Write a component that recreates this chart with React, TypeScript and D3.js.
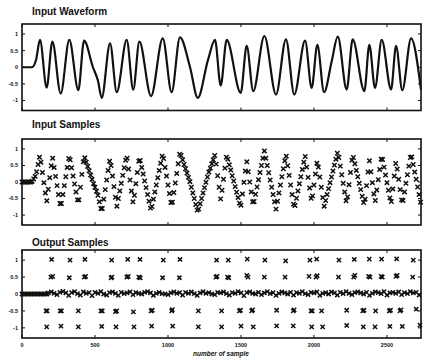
import * as d3 from "d3";
import React from "react";

const W = 425;
const H = 360;

// axis ticks
const xTicks = [0, 500, 1000, 1500, 2000, 2500];
const yTicks = [1, 0.5, 0, -0.5, -1];
const yTickLabels = ["1", "0.5", "0", "-0.5", "-1"];
const titles = ["Input Waveform", "Input Samples", "Output Samples"];
const xLabel = "number of sample";

// waveform turning points (sample number, amplitude)
const waveN = [
  0, 68, 96, 123, 169, 208, 265, 324, 386, 425, 486, 520, 546, 603, 649, 717,
  762, 804, 884, 964, 1025, 1082, 1151, 1204, 1274, 1322, 1361, 1402, 1498,
  1539, 1584, 1660, 1740, 1808, 1865, 1939, 1984, 2023, 2069, 2121, 2163, 2224,
  2265, 2345, 2379, 2418, 2464, 2528, 2562, 2605, 2665, 2733,
];
const waveV = [
  0, 0, 0.22, 0.82, -0.61, 0.77, -0.79, 0.82, -0.69, 0.8, 0.0, -0.4, -0.92,
  0.72, -0.75, 0.82, -0.67, 0.77, -0.87, 0.87, -0.75, 0.9, 0.0, -0.92, 0.22,
  0.82, -0.55, 0.82, -0.77, 0.64, -0.72, 0.94, -0.82, 0.84, -0.82, 0.8, -0.62,
  0.67, -0.75, 0.17, 0.92, -0.67, 0.84, -0.72, 0.67, -0.62, 0.82, -0.67, 0.64,
  -0.69, 0.87, -0.67,
];

// input samples, one every 10 samples
const inputStep = 10;
const inputSamples = [
  0, 0, 0, 0, 0, 0, 0, 0.02, 0.09, 0.17,
  0.31, 0.53, 0.75, 0.6, 0.29, -0.02, -0.33, -0.57, -0.22, 0.13,
  0.49, 0.72, 0.44, 0.17, -0.11, -0.38, -0.65, -0.65, -0.38, -0.11,
  0.16, 0.44, 0.71, 0.67, 0.43, 0.18, -0.06, -0.3, -0.54, -0.54,
  -0.16, 0.23, 0.61, 0.73, 0.6, 0.47, 0.34, 0.21, 0.08, -0.05,
  -0.16, -0.28, -0.4, -0.6, -0.8, -0.8, -0.52, -0.23, 0.06, 0.35,
  0.63, 0.5, 0.18, -0.14, -0.46, -0.73, -0.5, -0.27, -0.04, 0.2,
  0.43, 0.66, 0.72, 0.39, 0.06, -0.27, -0.6, -0.4, -0.05, 0.29,
  0.63, 0.65, 0.44, 0.24, 0.03, -0.17, -0.38, -0.58, -0.79, -0.74,
  -0.52, -0.3, -0.09, 0.13, 0.35, 0.57, 0.78, 0.71, 0.44, 0.18,
  -0.09, -0.35, -0.62, -0.61, -0.32, -0.03, 0.26, 0.55, 0.84, 0.8,
  0.67, 0.53, 0.4, 0.27, 0.14, 0.01, -0.16, -0.33, -0.5, -0.68,
  -0.85, -0.82, -0.66, -0.5, -0.33, -0.17, -0.01, 0.15, 0.3, 0.42,
  0.55, 0.67, 0.8, 0.54, 0.19, -0.16, -0.51, -0.25, 0.08, 0.42,
  0.75, 0.69, 0.52, 0.36, 0.19, 0.03, -0.14, -0.31, -0.47, -0.64,
  -0.7, -0.36, -0.01, 0.33, 0.61, 0.31, 0.0, -0.3, -0.6, -0.59,
  -0.37, -0.15, 0.07, 0.29, 0.5, 0.72, 0.94, 0.72, 0.5, 0.28,
  0.06, -0.16, -0.38, -0.6, -0.82, -0.58, -0.33, -0.09, 0.16, 0.4,
  0.64, 0.78, 0.49, 0.2, -0.09, -0.38, -0.67, -0.71, -0.49, -0.27,
  -0.05, 0.16, 0.38, 0.6, 0.77, 0.45, 0.14, -0.18, -0.49, -0.42,
  -0.09, 0.24, 0.57, 0.45, 0.15, -0.16, -0.47, -0.73, -0.56, -0.38,
  -0.2, -0.02, 0.15, 0.33, 0.51, 0.69, 0.87, 0.74, 0.48, 0.22,
  -0.04, -0.3, -0.57, -0.45, -0.08, 0.29, 0.66, 0.74, 0.55, 0.35,
  0.16, -0.04, -0.23, -0.43, -0.62, -0.52, -0.11, 0.3, 0.64, 0.31,
  -0.02, -0.36, -0.56, -0.24, 0.07, 0.38, 0.69, 0.68, 0.45, 0.21,
  -0.02, -0.25, -0.48, -0.59, -0.21, 0.18, 0.56, 0.39, 0.08, -0.23,
  -0.54, -0.56, -0.3, -0.04, 0.22, 0.48, 0.74, 0.76, 0.53, 0.3,
  0.08, -0.15, -0.38, -0.61,
];

// output samples, grouped by quantisation level: [sample number, value]
const outputHigh: [number, number][] = [
  [203, 1.02], [329, 1.0], [431, 1.02], [614, 1.0], [724, 1.02], [808, 1.02],
  [968, 1.0], [1082, 1.02], [1333, 1.0], [1413, 1.0], [1543, 1.03], [1664, 1.0],
  [1806, 0.98], [1972, 1.0], [2018, 1.03], [2171, 1.0], [2276, 1.02],
  [2379, 1.03], [2463, 1.03], [2566, 1.04], [2680, 1.0],
];
const outputMidHigh: [number, number][] = [
  [198, 0.5], [210, 0.52], [324, 0.48], [427, 0.5], [436, 0.52], [610, 0.48],
  [616, 0.5], [718, 0.5], [728, 0.52], [800, 0.5], [810, 0.48], [963, 0.48],
  [1078, 0.48], [1328, 0.5], [1336, 0.52], [1408, 0.5], [1416, 0.48],
  [1540, 0.55], [1548, 0.5], [1660, 0.5], [1802, 0.5], [1966, 0.52],
  [2014, 0.5], [2022, 0.54], [2168, 0.5], [2272, 0.5], [2280, 0.55],
  [2374, 0.52], [2384, 0.5], [2460, 0.52], [2468, 0.5], [2562, 0.52],
  [2570, 0.55], [2676, 0.5],
];
const outputMidLow: [number, number][] = [
  [165, -0.5], [172, -0.5], [262, -0.5], [270, -0.5], [386, -0.5], [541, -0.5],
  [550, -0.5], [640, -0.52], [648, -0.5], [763, -0.53], [884, -0.5],
  [892, -0.48], [1025, -0.5], [1030, -0.46], [1208, -0.5], [1367, -0.5],
  [1489, -0.5], [1496, -0.48], [1573, -0.5], [1580, -0.47], [1744, -0.48],
  [1858, -0.5], [1864, -0.47], [1980, -0.5], [1988, -0.5], [2052, -0.5],
  [2224, -0.48], [2334, -0.5], [2342, -0.48], [2422, -0.5], [2516, -0.5],
  [2524, -0.48], [2589, -0.5], [2596, -0.47], [2700, -0.45],
];
const outputLow: [number, number][] = [
  [169, -0.97], [267, -0.95], [386, -0.97], [546, -0.96], [644, -0.97],
  [767, -0.97], [888, -0.95], [1032, -0.95], [1208, -0.97], [1367, -0.97],
  [1500, -0.95], [1584, -0.97], [1744, -0.94], [1858, -0.94], [1984, -0.97],
  [2059, -0.97], [2224, -0.93], [2338, -0.97], [2418, -0.97], [2520, -0.96],
  [2605, -0.96], [2726, -0.92],
];
// zero level: solid run at the start, then one every 20 samples from 180
const zeroStart = [0, 10, 20, 30, 40, 50, 60, 70, 80, 90, 100, 110, 120, 130, 140, 150, 160, 170];
const zeroFrom = 180;
const zeroStep = 20;
const zeroValues = [
  0.03, 0.06, 0.02, -0.02, 0.05, 0.08, 0.03, -0.04, 0.04, 0.07, 0.01, -0.03,
  0.06, 0.02, 0.04, -0.05, 0.05, 0.02, 0.07, 0.0, -0.03, 0.04, 0.06, 0.02,
  -0.04, 0.05, 0.01, 0.03, 0.06, -0.02, 0.04, 0.02, 0.0, 0.05, 0.07, 0.03,
  -0.04, 0.02, 0.05, 0.01, 0.0, -0.02, 0.03, 0.06, 0.02, 0.04, -0.03, 0.05,
  0.02, 0.06, 0.01, -0.04, 0.03, 0.07, 0.02, 0.04, 0.0, -0.02, 0.05, 0.03,
  0.06, 0.01, -0.03, 0.04, 0.02, 0.07, 0.03, -0.05, 0.04, 0.06, 0.02, 0.0,
  0.05, -0.02, 0.03, 0.07, 0.01, 0.04, -0.04, 0.02, 0.06, 0.03, 0.0, 0.05,
  -0.03, 0.04, 0.02, 0.07, 0.01, -0.02, 0.05, 0.03, 0.06, -0.04, 0.02, 0.04,
  0.0, 0.06, 0.03, -0.03, 0.05, 0.01, 0.07, 0.02, -0.02, 0.04, 0.06, 0.03,
  0.0, 0.05, -0.04, 0.02, 0.06, 0.04, 0.01, 0.07, -0.03, 0.03, 0.05, 0.02,
  0.06, -0.02, 0.04, 0.01, 0.07, 0.03, 0.05, -0.03,
];

// layout
const left = 22;
const right = 421;
const panels = [
  { top: 24, bottom: 110.5, titleY: 15 },
  { top: 139, bottom: 225, titleY: 128 },
  { top: 250, bottom: 338, titleY: 246 },
];
const ink = "#111";
const font = "'Liberation Sans', Arial, Helvetica, sans-serif";

const cross = (x: number, y: number, r: number) =>
  `M${x - r},${y - r}L${x + r},${y + r}M${x - r},${y + r}L${x + r},${y - r}`;

const App: React.FC = () => {
  const x = d3.scaleLinear().domain([0, 2733]).range([left, right]);
  const ys = panels.map((p) =>
    d3.scaleLinear().domain([-1.3, 1.3]).range([p.bottom, p.top]),
  );

  const wavePts = waveN.map((n, i) => [n, waveV[i]] as [number, number]);
  const line = d3
    .line<[number, number]>()
    .x((d) => x(d[0]))
    .y((d) => ys[0](d[1]))
    .curve(d3.curveMonotoneX);

  const inPath = inputSamples
    .map((v, i) => cross(x(i * inputStep), ys[1](v), 2.2))
    .join("");

  const zeroPts: [number, number][] = [
    ...zeroStart.map((n) => [n, 0] as [number, number]),
    ...zeroValues.map((v, i) => [zeroFrom + i * zeroStep, v] as [number, number]),
  ];
  const outPts = [...outputHigh, ...outputMidHigh, ...zeroPts, ...outputMidLow, ...outputLow];
  const outPath = outPts.map(([n, v]) => cross(x(n), ys[2](v), 2.1)).join("");

  return (
    <svg
      width={W}
      height={H}
      style={{ position: "absolute", left: 0, top: 0, background: "#fff" }}
      fontFamily={font}
    >
      <rect width={W} height={H} fill="#fff" />
      {panels.map((p, pi) => (
        <g key={pi}>
          <text x={32} y={p.titleY} fontSize={10} fontWeight="bold" fill={ink}>
            {titles[pi]}
          </text>
          {/* ticks pointing inward on all four sides */}
          {yTicks.map((t, ti) => (
            <g key={"y" + ti}>
              <line x1={left} x2={left + 3} y1={ys[pi](t)} y2={ys[pi](t)} stroke={ink} strokeWidth={1} />
              <line x1={right - 3} x2={right} y1={ys[pi](t)} y2={ys[pi](t)} stroke={ink} strokeWidth={1} />
              <text
                x={18}
                y={ys[pi](t)}
                dy="0.35em"
                textAnchor="end"
                fontSize={5.5}
                fontWeight="bold"
                fill={ink}
              >
                {yTickLabels[ti]}
              </text>
            </g>
          ))}
          {xTicks.map((t) => (
            <g key={"x" + t}>
              <line x1={x(t)} x2={x(t)} y1={p.bottom} y2={p.bottom - 3} stroke={ink} strokeWidth={1} />
              <line x1={x(t)} x2={x(t)} y1={p.top} y2={p.top + 3} stroke={ink} strokeWidth={1} />
            </g>
          ))}
          <rect
            x={left}
            y={p.top}
            width={right - left}
            height={p.bottom - p.top}
            fill="none"
            stroke={ink}
            strokeWidth={1.6}
          />
        </g>
      ))}

      <path d={line(wavePts) ?? ""} fill="none" stroke={ink} strokeWidth={2.2} strokeLinejoin="round" />
      <path d={inPath} fill="none" stroke={ink} strokeWidth={1.5} />
      <path d={outPath} fill="none" stroke={ink} strokeWidth={1.5} />

      {xTicks.map((t) => (
        <text
          key={t}
          x={x(t)}
          y={347}
          textAnchor="middle"
          fontSize={5.5}
          fontWeight="bold"
          fill={ink}
        >
          {t}
        </text>
      ))}
      <text
        x={221}
        y={356}
        textAnchor="middle"
        fontSize={6.5}
        fontWeight="bold"
        fontStyle="italic"
        fill={ink}
      >
        {xLabel}
      </text>
    </svg>
  );
};

export default App;
